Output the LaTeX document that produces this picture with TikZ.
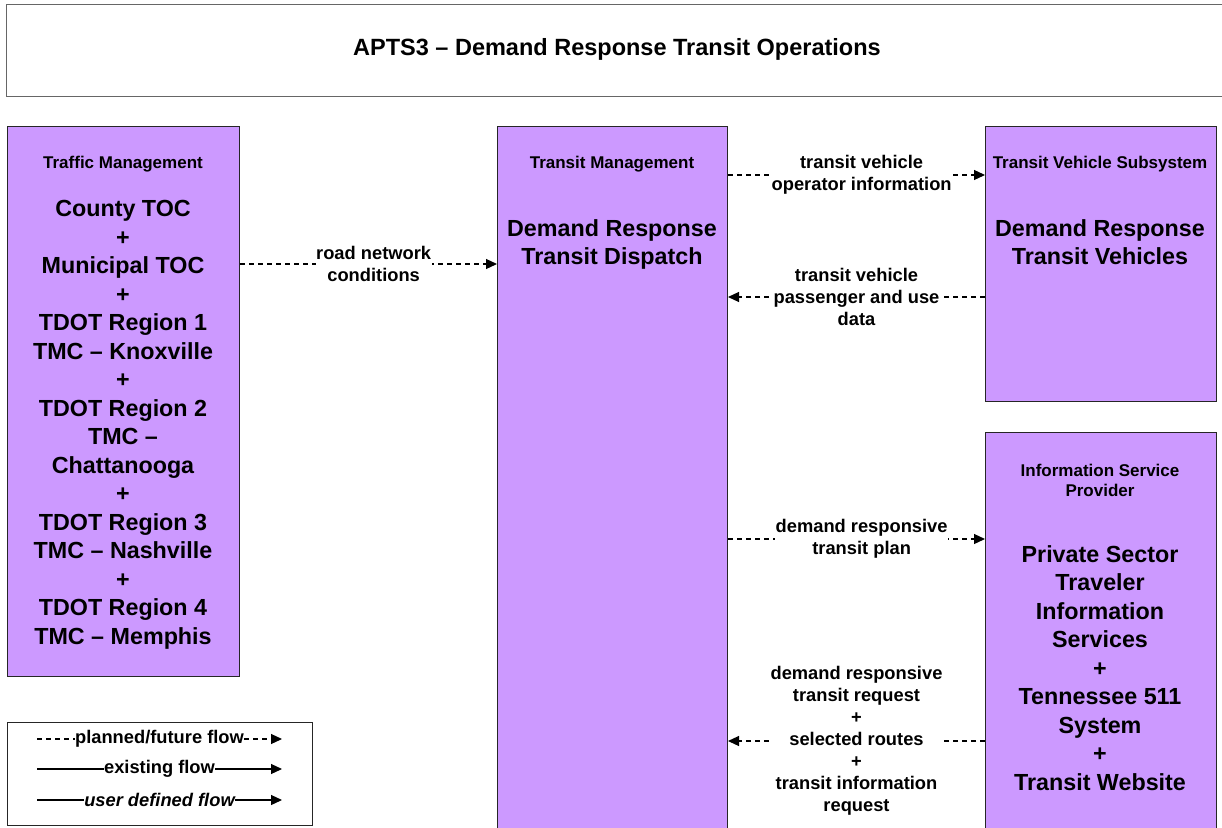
\documentclass[tikz,border=0pt]{standalone}
\usepackage{fontspec}
\setmainfont{Liberation Sans}
\usetikzlibrary{arrows.meta}
\definecolor{boxfill}{HTML}{CC99FF}
\begin{document}
\begin{tikzpicture}[x=1pt,y=-1pt,
  every node/.style={font=\bfseries, align=center},
  sysbox/.style={draw=black!85, line width=1pt, fill=boxfill, anchor=north west, inner sep=0pt},
  hdr/.style={font=\fontsize{17}{20}\selectfont\bfseries},
  big/.style={font=\fontsize{23.3}{28.5}\selectfont\bfseries},
  lbl/.style={font=\fontsize{18.3}{22}\selectfont\bfseries, fill=white, inner sep=0.5pt},
  flow/.style={dashed, dash pattern=on 5pt off 4pt, line width=1.2pt, -{Triangle[length=11pt,width=10pt]}},
  solidflow/.style={line width=1.2pt, -{Triangle[length=11pt,width=10pt]}}
]
\useasboundingbox (0,0) rectangle (1222,827);
\clip (0,0) rectangle (1222,827);

% title banner
\node[draw=black!60, line width=1.3pt, anchor=north west, minimum width=1230pt, minimum height=92pt, inner sep=0pt] (title) at (6,4) {};
\node[font=\fontsize{23.5}{28}\selectfont\bfseries] (titletext) at (617,49) {APTS3 -- Demand Response Transit Operations};

% subsystem boxes
\node[sysbox, minimum width=232pt, minimum height=550pt] (traffic) at (7,126) {};
\node[sysbox, minimum width=230pt, minimum height=720pt] (transit) at (497,126) {};
\node[sysbox, minimum width=231pt, minimum height=275pt] (vehicle) at (985,126) {};
\node[sysbox, minimum width=231pt, minimum height=420pt] (isp) at (985,432) {};

% box titles and contents
\node[hdr] (trafficH) at (123,164) {Traffic Management};
\node[big, anchor=north] (trafficT) at (123,197) {County TOC\\+\\Municipal TOC\\+\\TDOT Region 1\\TMC -- Knoxville\\+\\TDOT Region 2\\TMC --\\Chattanooga\\+\\TDOT Region 3\\TMC -- Nashville\\+\\TDOT Region 4\\TMC -- Memphis};

\node[hdr] (transitH) at (612,164) {Transit Management};
\node[big, anchor=north] (transitT) at (612,216) {Demand Response\\Transit Dispatch};

\node[hdr] (vehicleH) at (1100,164) {Transit Vehicle Subsystem};
\node[big, anchor=north] (vehicleT) at (1100,216) {Demand Response\\Transit Vehicles};

\node[hdr] (ispH) at (1100,480) {Information Service\\Provider};
\node[big, anchor=north] (ispT) at (1100,542) {Private Sector\\Traveler\\Information\\Services\\+\\Tennessee 511\\System\\+\\Transit Website};

% flows
\draw[flow] (traffic.east |- 0,264) -- (transit.west |- 0,264)
  node[lbl, pos=0.52] (f1) {road network\\conditions};
\draw[flow] (transit.east |- 0,175) -- (vehicle.west |- 0,175)
  node[lbl, pos=0.52] (f2) {transit vehicle\\operator information};
\draw[flow] (vehicle.west |- 0,297) -- (transit.east |- 0,297)
  node[lbl, midway] (f3) {transit vehicle\\passenger and use\\data};
\draw[flow] (transit.east |- 0,539) -- (isp.west |- 0,539)
  node[lbl, pos=0.52] (f4) {demand responsive\\transit plan};
\draw[flow] (isp.west |- 0,741) -- (transit.east |- 0,741)
  node[lbl, midway] (f5) {demand responsive\\transit request\\+\\selected routes\\+\\transit information\\request};

% legend
\node[draw=black!85, line width=1pt, anchor=north west, minimum width=305pt, minimum height=103pt, inner sep=0pt, fill=white] (legend) at (7,722) {};
\coordinate (l1a) at (37,739); \coordinate (l1b) at (282,739);
\coordinate (l2a) at (37,769); \coordinate (l2b) at (282,769);
\coordinate (l3a) at (37,800); \coordinate (l3b) at (282,800);
\draw[flow] (l1a) -- (l1b) node[lbl, pos=0.5] (k1) {planned/future flow};
\draw[solidflow] (l2a) -- (l2b) node[lbl, pos=0.5] (k2) {existing flow};
\draw[solidflow] (l3a) -- (l3b) node[lbl, pos=0.5, font=\fontsize{18.3}{22}\selectfont\bfseries\itshape] (k3) {user defined flow};
\end{tikzpicture}
\end{document}
